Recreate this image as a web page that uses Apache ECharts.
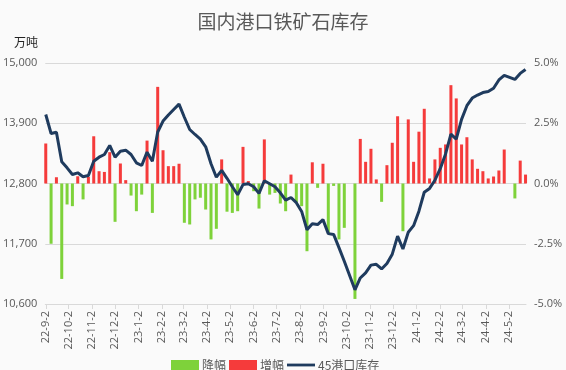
<!DOCTYPE html>
<html>
<head>
<meta charset="utf-8">
<script src="https://cdn.jsdelivr.net/npm/echarts@6/dist/echarts.min.js"></script>
<style>
html,body{margin:0;padding:0;background:#fafafa;}
#chart{width:566px;height:370px;}
</style>
</head>
<body>
<div id="chart"></div>
<script>
// weekly dates (2023-10-06 and 2024-05-03 missing in source)
const dates = [
'2022-09-02','2022-09-09','2022-09-16','2022-09-23','2022-09-30','2022-10-07','2022-10-14','2022-10-21','2022-10-28',
'2022-11-04','2022-11-11','2022-11-18','2022-11-25','2022-12-02','2022-12-09','2022-12-16','2022-12-23','2022-12-30',
'2023-01-06','2023-01-13','2023-01-20','2023-01-27','2023-02-03','2023-02-10','2023-02-17','2023-02-24',
'2023-03-03','2023-03-10','2023-03-17','2023-03-24','2023-03-31','2023-04-07','2023-04-14','2023-04-21','2023-04-28',
'2023-05-05','2023-05-12','2023-05-19','2023-05-26','2023-06-02','2023-06-09','2023-06-16','2023-06-23','2023-06-30',
'2023-07-07','2023-07-14','2023-07-21','2023-07-28','2023-08-04','2023-08-11','2023-08-18','2023-08-25',
'2023-09-01','2023-09-08','2023-09-15','2023-09-22','2023-09-29','2023-10-13','2023-10-20','2023-10-27',
'2023-11-03','2023-11-10','2023-11-17','2023-11-24','2023-12-01','2023-12-08','2023-12-15','2023-12-22','2023-12-29',
'2024-01-05','2024-01-12','2024-01-19','2024-01-26','2024-02-02','2024-02-09','2024-02-16','2024-02-23',
'2024-03-01','2024-03-08','2024-03-15','2024-03-22','2024-03-29','2024-04-05','2024-04-12','2024-04-19','2024-04-26',
'2024-05-10','2024-05-17','2024-05-24'
];
// 45港口库存 (万吨)
const stock = [
14060,13713,13737,13196,13086,12964,12995,12922,12946,
13207,13280,13330,13494,13280,13390,13408,13330,13178,
13129,13372,13207,13740,13940,14050,14150,14250,
14010,13786,13695,13610,13470,13160,12915,13040,12895,
12740,12595,12780,12795,12740,12620,12850,12795,12740,
12630,12495,12545,12450,12290,11955,12065,12050,
12140,11885,11870,11630,11380,10860,11075,11168,
11310,11325,11240,11340,11510,11840,11605,11910,12030,
12295,12640,12710,12860,13070,13340,13700,13610,
13970,14220,14360,14415,14460,14478,14540,14690,14775,
14700,14810,14882
];
// 周环比 (%)
const pctChange = [
1.66,-2.50,0.26,-3.96,-0.87,-0.94,0.30,-0.66,0.28,
1.96,0.51,0.48,1.30,-1.59,0.83,0.14,-0.50,-1.15,
-0.46,1.78,-1.22,4.01,1.38,0.72,0.72,0.82,
-1.63,-1.70,-0.66,-0.59,-1.08,-2.32,-1.88,1.00,-1.17,
-1.22,-1.15,1.52,0.10,-0.32,-1.04,1.83,-0.46,-0.39,
-0.83,-1.15,0.37,-0.80,-0.94,-2.81,0.88,-0.18,
0.82,-2.05,-0.10,-2.32,-1.84,-4.79,1.85,0.90,
1.44,0.17,-0.76,0.76,1.69,2.79,-1.98,2.66,0.90,
2.15,3.10,0.21,1.00,1.48,1.62,4.08,3.53,
1.62,1.92,1.00,0.61,0.51,0.21,0.29,0.54,1.41,
-0.62,0.95,0.37
];
const tickLabels = ['22-9-2','22-10-2','22-11-2','22-12-2','23-1-2','23-2-2','23-3-2','23-4-2','23-5-2','23-6-2',
'23-7-2','23-8-2','23-9-2','23-10-2','23-11-2','23-12-2','24-1-2','24-2-2','24-3-2','24-4-2','24-5-2'];
const leftTicks = [10600, 11700, 12800, 13900, 15000];

const DAY = 86400000;
const t0 = Date.parse('2022-09-02T00:00:00Z');
const dayOf = s => Math.round((Date.parse(s + 'T00:00:00Z') - t0) / DAY);
const labelDay = l => {
  const p = l.split('-');
  return dayOf('20' + p[0] + '-' + p[1].padStart(2, '0') + '-' + p[2].padStart(2, '0'));
};
const tickDays = tickLabels.map(labelDay);
const xs = dates.map(dayOf);

const stockData = xs.map((x, i) => [x, stock[i]]);
const decData = xs.map((x, i) => [x, pctChange[i] < 0 ? pctChange[i] : null]);
const incData = xs.map((x, i) => [x, pctChange[i] >= 0 ? pctChange[i] : null]);

const numFont = 'Open Sans, Liberation Sans, sans-serif';
const cjk = 'Noto Sans CJK SC, sans-serif';
const txt = '#595959';
const lineColor = '#1f3b5e';

const chart = echarts.init(document.getElementById('chart'), null, {renderer: 'canvas'});
chart.setOption({
  backgroundColor: '#fafafa',
  animation: false,
  title: {
    text: '国内港口铁矿石库存', left: 'center', top: 7,
    textStyle: {fontSize: 19, fontWeight: 'normal', color: txt, fontFamily: cjk}
  },
  graphic: [{
    type: 'text', left: 14, top: 36,
    style: {text: '万吨', fontSize: 12, fill: '#222', fontFamily: cjk}
  }],
  legend: {
    left: 166, top: 354, itemGap: 3, itemWidth: 28, itemHeight: 10,
    textStyle: {fontSize: 12, color: txt, fontFamily: cjk, padding: [0, 0, 0, -2]},
    data: [
      {name: '降幅', icon: 'rect'},
      {name: '增幅', icon: 'rect'},
      {name: '45港口库存', icon: 'path://M0,0L30,0L30,3L0,3Z', itemStyle: {color: lineColor}}
    ]
  },
  grid: {left: 43, right: 40, top: 63, bottom: 66},
  xAxis: {
    type: 'value',
    min: -0.6, max: xs[xs.length - 1] + 0.6,
    axisLine: {onZero: false, lineStyle: {color: '#d9d9d9'}},
    axisTick: {show: true, customValues: tickDays, length: 5, lineStyle: {color: '#d9d9d9'}},
    splitLine: {show: false},
    axisLabel: {
      customValues: tickDays, rotate: 90, margin: 7,
      fontSize: 11, color: txt, fontFamily: numFont,
      formatter: v => { const k = tickDays.indexOf(Math.round(v)); return k >= 0 ? tickLabels[k] : ''; }
    }
  },
  yAxis: [{
    type: 'value', min: leftTicks[0], max: leftTicks[leftTicks.length - 1], interval: leftTicks[1] - leftTicks[0],
    axisLine: {show: false}, axisTick: {show: false},
    splitLine: {lineStyle: {color: '#d9d9d9'}},
    axisLabel: {fontSize: 11, color: txt, fontFamily: numFont, margin: 8}
  }, {
    type: 'value', min: -5, max: 5, interval: 2.5,
    axisLine: {show: false}, axisTick: {show: false},
    splitLine: {show: false},
    axisLabel: {fontSize: 11, color: txt, fontFamily: numFont, margin: 8, formatter: v => v.toFixed(1) + '%'}
  }],
  series: [{
    name: '降幅', type: 'bar', yAxisIndex: 1, barWidth: 3, barGap: '-100%',
    itemStyle: {color: '#7ed23a'}, data: decData, z: 2
  }, {
    name: '增幅', type: 'bar', yAxisIndex: 1, barWidth: 3, barGap: '-100%',
    itemStyle: {color: '#f53b3b'}, data: incData, z: 2
  }, {
    name: '45港口库存', type: 'line', yAxisIndex: 0, symbol: 'none', showSymbol: false,
    lineStyle: {color: lineColor, width: 3}, itemStyle: {color: lineColor},
    data: stockData, z: 5
  }]
});
</script>
</body>
</html>
